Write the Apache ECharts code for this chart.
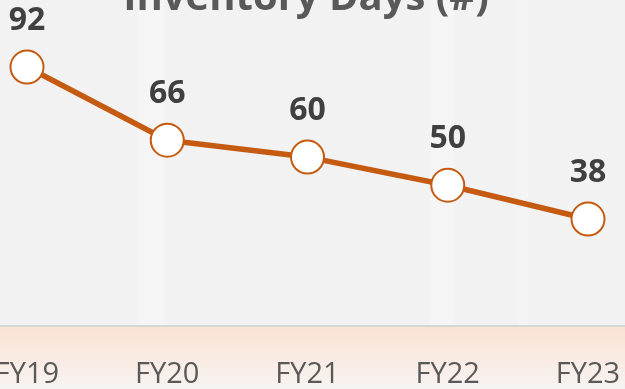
<!DOCTYPE html>
<html>
<head>
<meta charset="utf-8">
<script src="https://cdn.jsdelivr.net/npm/echarts@6/dist/echarts.min.js"></script>
<style>
  html, body { margin: 0; padding: 0; background: #f2f2f2; }
  #chart { width: 625px; height: 389px; }
</style>
</head>
<body>
<div id="chart"></div>
<script>
// Inventory days by fiscal year
const titleText = 'Inventory Days (#)';
const years = ['FY19', 'FY20', 'FY21', 'FY22', 'FY23'];
const inventoryDays = [92, 66, 60, 50, 38];

const accent = '#c55a11';
const chart = echarts.init(document.getElementById('chart'), null, { renderer: 'canvas' });

chart.setOption({
  backgroundColor: '#f2f2f2',
  animation: false,
  graphic: [
    // soft light streaks on the backdrop
    { type: 'rect', z: -3, shape: { x: 138, y: 0, width: 26, height: 326 }, style: { fill: 'rgba(255,255,255,0.22)' } },
    { type: 'rect', z: -3, shape: { x: 430, y: 0, width: 24, height: 326 }, style: { fill: 'rgba(255,255,255,0.22)' } },
    { type: 'rect', z: -3, shape: { x: 518, y: 0, width: 10, height: 326 }, style: { fill: 'rgba(255,255,255,0.15)' } },
    // peach footer band under the axis
    {
      type: 'rect', z: -2,
      shape: { x: 0, y: 327, width: 625, height: 62 },
      style: {
        fill: new echarts.graphic.LinearGradient(0, 0, 0, 1, [
          { offset: 0, color: '#fbe3d5' },
          { offset: 0.35, color: '#fae8de' },
          { offset: 1, color: '#f7f3f1' }
        ])
      }
    },
    // divider between plot and footer
    {
      type: 'rect', z: -1,
      shape: { x: 0, y: 325, width: 625, height: 2 },
      style: { fill: '#d6d6d6' }
    },
    {
      type: 'text', z: 5,
      style: {
        text: titleText,
        x: 306, y: -1,
        textAlign: 'center', textVerticalAlign: 'middle',
        fill: '#595959',
        font: 'bold 40px "Open Sans"'
      }
    }
  ],
  grid: { left: 27, right: 37, top: 44.5, bottom: 63, containLabel: false, outerBoundsMode: 'none' },
  xAxis: {
    type: 'category',
    data: years,
    boundaryGap: false,
    axisLine: { show: false },
    axisTick: { show: false },
    axisLabel: {
      margin: 34,
      color: '#595959',
      fontFamily: 'Open Sans',
      fontSize: 29
    },
    splitLine: { show: false }
  },
  yAxis: {
    type: 'value',
    min: 0, max: 100,
    show: false,
    splitLine: { show: false }
  },
  series: [{
    type: 'line',
    data: inventoryDays,
    symbol: 'circle',
    symbolSize: 33,
    lineStyle: { color: accent, width: 5.5 },
    itemStyle: { color: '#ffffff', borderColor: accent, borderWidth: 2 },
    label: {
      show: true,
      position: 'top',
      distance: 13,
      color: '#404040',
      fontFamily: 'Open Sans',
      fontWeight: 'bold',
      fontSize: 32
    },
    z: 3
  }]
});
</script>
</body>
</html>
